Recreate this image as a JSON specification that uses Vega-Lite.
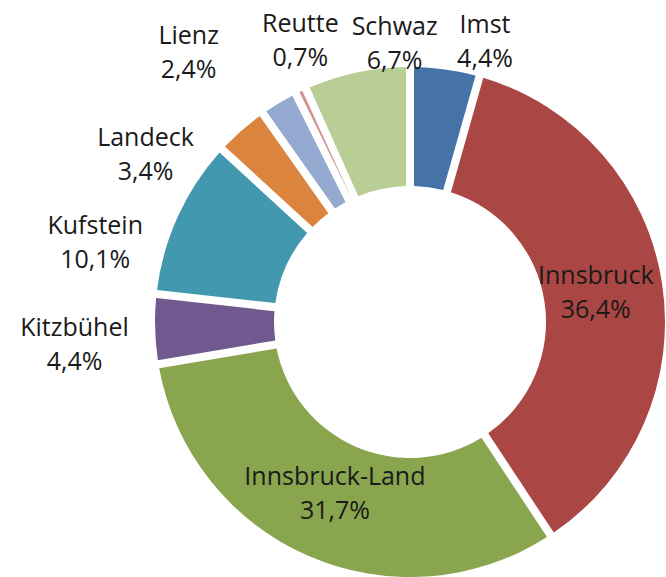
{
  "$schema": "https://vega.github.io/schema/vega-lite/v6.json",
  "width": 500,
  "height": 500,
  "autosize": {"type": "none"},
  "padding": {"left": 160, "top": 72, "right": 6, "bottom": 5},
  "background": "white",
  "config": {
    "view": {"stroke": null},
    "text": {"font": "Open Sans", "fontSize": 25, "fill": "#1a1a1a"}
  },
  "data": {
    "values": [
      {"name": "Imst", "value": 4.4, "pct": "4,4%"},
      {"name": "Innsbruck", "value": 36.4, "pct": "36,4%"},
      {"name": "Innsbruck-Land", "value": 31.7, "pct": "31,7%"},
      {"name": "Kitzbühel", "value": 4.4, "pct": "4,4%"},
      {"name": "Kufstein", "value": 10.1, "pct": "10,1%"},
      {"name": "Landeck", "value": 3.4, "pct": "3,4%"},
      {"name": "Lienz", "value": 2.4, "pct": "2,4%"},
      {"name": "Reutte", "value": 0.7, "pct": "0,7%"},
      {"name": "Schwaz", "value": 6.7, "pct": "6,7%"}
    ]
  },
  "resolve": {"scale": {"theta": "independent", "radius": "independent"}},
  "layer": [
    {
      "mark": {"type": "arc", "radius": 255, "innerRadius": 136, "padAngle": 0.028},
      "encoding": {
        "theta": {"field": "value", "type": "quantitative", "stack": true},
        "order": {"field": "name", "type": "nominal", "sort": "ascending"},
        "color": {
          "field": "name", "type": "nominal", "legend": null,
          "scale": {
            "domain": ["Imst", "Innsbruck", "Innsbruck-Land", "Kitzbühel", "Kufstein", "Landeck", "Lienz", "Reutte", "Schwaz"],
            "range": ["#4572A7", "#AA4643", "#89A54E", "#71588F", "#4198AF", "#DB843D", "#93A9CF", "#D19392", "#B9CD96"]
          }
        }
      }
    },
    {
      "mark": {"type": "text", "radius": 188, "dy": -17},
      "encoding": {
        "theta": {"field": "value", "type": "quantitative", "stack": true},
        "order": {"field": "name", "type": "nominal", "sort": "ascending"},
        "detail": {"field": "name", "type": "nominal"},
        "text": {"condition": {"test": "datum.value > 20", "field": "name", "type": "nominal"}, "value": ""}
      }
    },
    {
      "mark": {"type": "text", "radius": 188, "dy": 17},
      "encoding": {
        "theta": {"field": "value", "type": "quantitative", "stack": true},
        "order": {"field": "name", "type": "nominal", "sort": "ascending"},
        "detail": {"field": "name", "type": "nominal"},
        "text": {"condition": {"test": "datum.value > 20", "field": "pct", "type": "nominal"}, "value": ""}
      }
    },
    {
      "transform": [{"filter": "datum.value < 20"}],
      "mark": {"type": "text", "dy": -17},
      "encoding": {
        "theta": {"field": "name", "type": "nominal", "scale": {"type": "point", "domain": ["Kitzbühel", "Kufstein", "Landeck", "Lienz", "Reutte", "Schwaz", "Imst"], "range": [4.6426, 6.5450], "padding": 0}},
        "radius": {"field": "name", "type": "nominal", "scale": {"type": "point", "domain": ["Schwaz", "Imst", "Reutte", "Landeck", "Kufstein", "Kitzbühel", "Lienz"], "range": [278, 348], "padding": 0}},
        "text": {"field": "name", "type": "nominal"}
      }
    },
    {
      "transform": [{"filter": "datum.value < 20"}],
      "mark": {"type": "text", "dy": 17},
      "encoding": {
        "theta": {"field": "name", "type": "nominal", "scale": {"type": "point", "domain": ["Kitzbühel", "Kufstein", "Landeck", "Lienz", "Reutte", "Schwaz", "Imst"], "range": [4.6426, 6.5450], "padding": 0}},
        "radius": {"field": "name", "type": "nominal", "scale": {"type": "point", "domain": ["Schwaz", "Imst", "Reutte", "Landeck", "Kufstein", "Kitzbühel", "Lienz"], "range": [278, 348], "padding": 0}},
        "text": {"field": "pct", "type": "nominal"}
      }
    }
  ]
}
